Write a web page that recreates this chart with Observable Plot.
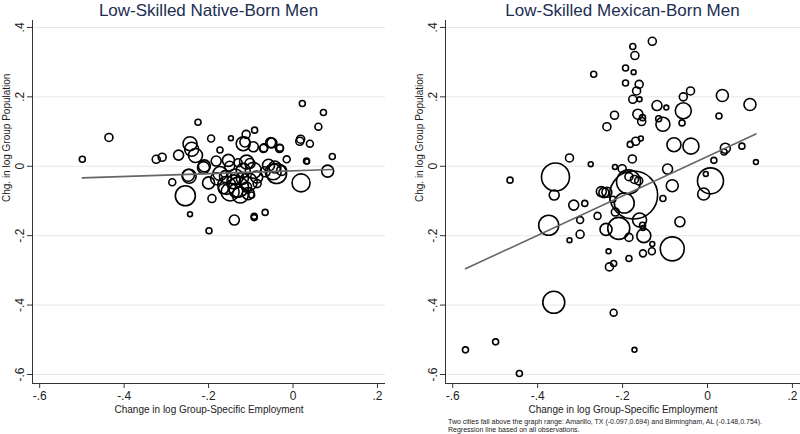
<!DOCTYPE html>
<html><head><meta charset="utf-8">
<script src="https://cdn.jsdelivr.net/npm/d3@7"></script>
<script src="https://cdn.jsdelivr.net/npm/@observablehq/plot@0.6"></script>
<style>
body{margin:0;background:#fff;font-family:"Liberation Sans",Arial,sans-serif;}
#wrap{position:relative;width:800px;height:434px;overflow:hidden;background:#fff}
.panel{position:absolute;top:0}
.title{position:absolute;top:1px;font-size:17px;line-height:1.15;color:#1c2d52;white-space:nowrap;transform:translateX(-50%)}
.note{position:absolute;left:448px;top:418px;font-size:7px;line-height:7.8px;color:#222;white-space:nowrap}
</style></head><body>
<div id="wrap">
  <div class="panel" id="p1" style="left:0px"></div>
  <div class="panel" id="p2" style="left:400px"></div>
  <div class="title" style="left:208.5px">Low-Skilled Native-Born Men</div>
  <div class="title" style="left:622.5px">Low-Skilled Mexican-Born Men</div>
  <div class="note">Two cities fall above the graph range: Amarillo, TX (-0.097,0.694) and Birmingham, AL (-0.148,0.754).<br>Regression line based on all observations.</div>
</div>
<script>
// ---- data ----
const xTicks = [-0.6, -0.4, -0.2, 0, 0.2];
const yTicks = [-0.6, -0.4, -0.2, 0, 0.2, 0.4];
const xDomain = [-0.617, 0.219];
const yDomain = [-0.626, 0.42];
const xLabel = "Change in log Group-Specific Employment";
const yLabel = "Chg. in log Group Population";

// Native-born: change in employment, change in population, weight
const nativeX = [-0.499,-0.436,-0.225,0.022,0.072,0.060,0.018,0.016,0.040,0.033,0.093,0.082,0.019,-0.047,-0.039,-0.050,-0.031,-0.015,-0.069,-0.091,-0.111,-0.118,-0.114,-0.147,-0.173,-0.194,-0.244,-0.240,-0.231,-0.271,-0.324,-0.310,-0.210,-0.286,-0.248,-0.255,-0.192,-0.200,-0.244,-0.139,-0.092,-0.092,-0.066,-0.199,-0.246,-0.212,-0.182,-0.153,-0.173,-0.157,-0.129,-0.137,-0.106,-0.094,-0.110,-0.094,-0.106,-0.098,-0.070,-0.053,-0.032,-0.058,-0.043,-0.027,0.032,-0.149,-0.125,-0.181,-0.086,-0.102,-0.118,-0.066,-0.140,-0.160,-0.120,-0.135,-0.150,-0.165,-0.110,-0.085,-0.130];
const nativeY = [0.020,0.083,0.127,0.181,0.155,0.114,0.078,0.072,0.065,0.014,0.028,-0.014,-0.048,-0.016,-0.021,0.067,0.053,0.020,0.053,0.104,0.092,0.065,0.070,0.081,0.047,0.080,0.065,0.049,0.031,0.032,0.020,0.026,0.001,-0.046,-0.026,-0.085,-0.093,-0.048,-0.138,-0.155,-0.144,-0.148,-0.133,-0.186,-0.029,-0.004,0.015,0.017,-0.021,-0.055,-0.060,-0.031,-0.045,0.056,0.012,-0.012,-0.079,-0.083,0.051,0.068,0.051,0.003,-0.002,-0.012,0.015,-0.074,-0.083,-0.036,-0.031,0.008,-0.012,-0.016,-0.045,-0.030,-0.035,-0.070,0.000,-0.065,-0.060,-0.050,0.010];
const nativeW = [9,16,9,9,9,12,16,16,12,6,9,36,81,64,100,25,12,12,16,9,16,49,25,6,9,12,49,49,49,25,16,16,36,12,36,100,16,36,6,25,9,9,9,9,49,36,25,36,49,81,100,64,81,25,49,64,36,9,16,25,16,36,36,25,9,81,64,36,36,25,49,25,49,36,36,49,25,25,25,16,16];

// Mexican-born
const mexX = [-0.130,-0.176,-0.171,-0.268,-0.193,-0.174,-0.193,-0.161,-0.167,-0.176,-0.160,-0.119,-0.097,-0.057,-0.057,-0.040,0.035,0.100,0.027,-0.060,-0.115,-0.105,-0.164,-0.153,-0.155,-0.219,-0.237,-0.157,-0.169,-0.182,-0.079,-0.039,0.042,0.039,0.081,0.015,0.114,-0.325,-0.275,-0.177,-0.218,-0.094,-0.465,-0.358,-0.361,-0.186,-0.174,-0.185,-0.172,-0.162,-0.083,0.007,-0.004,-0.009,-0.105,-0.250,-0.244,-0.237,-0.223,-0.196,-0.315,-0.289,-0.217,-0.374,-0.300,-0.300,-0.325,-0.259,-0.239,-0.209,-0.185,-0.160,-0.150,-0.153,-0.152,-0.065,-0.083,-0.130,-0.131,-0.152,-0.185,-0.233,-0.231,-0.221,-0.362,-0.221,-0.570,-0.499,-0.443,-0.172,-0.201];
const mexY = [0.360,0.345,0.319,0.265,0.283,0.271,0.240,0.236,0.217,0.193,0.193,0.175,0.169,0.160,0.200,0.217,0.204,0.178,0.145,0.125,0.137,0.121,0.150,0.140,0.129,0.147,0.114,0.080,0.072,0.063,0.062,0.058,0.052,0.041,0.058,0.017,0.012,0.024,0.006,0.021,-0.002,-0.008,-0.040,-0.031,-0.083,-0.045,-0.083,-0.030,-0.038,-0.042,-0.056,-0.042,-0.022,-0.080,-0.093,-0.073,-0.076,-0.075,-0.095,-0.106,-0.112,-0.107,-0.132,-0.170,-0.155,-0.196,-0.213,-0.143,-0.182,-0.179,-0.205,-0.155,-0.200,-0.170,-0.178,-0.160,-0.238,-0.224,-0.245,-0.251,-0.266,-0.245,-0.290,-0.280,-0.392,-0.422,-0.529,-0.506,-0.597,-0.529,-0.007];
const mexW = [16,9,16,9,9,6,9,16,16,16,6,25,6,64,16,16,36,36,9,9,9,49,25,9,16,16,16,6,16,9,49,64,25,9,9,9,6,16,6,16,6,25,9,196,25,144,576,16,16,16,36,169,6,36,9,25,25,25,9,100,25,9,16,100,12,16,6,12,36,121,16,49,49,9,6,25,144,6,12,12,9,6,16,9,121,12,9,9,9,6,16];

// Regression fits (intercept, slope) estimated from the figure
const fitIntercept = [-0.0133, 0.0284];
const fitSlope = [0.0406, 0.568];

// ---- drawing ----
const fmt = d => d === 0 ? "0" : String(+d.toFixed(1)).replace(/^(-?)0\./, "$1.");
const font = "'Liberation Sans', Arial, sans-serif";

function panel(xs, ys, ws, b0, b1, marginLeft, marginRight) {
  const pts = xs.map((x, i) => ({x, y: ys[i], w: ws[i]}));
  const ext = d3.extent(xs);
  const fit = ext.map(x => ({x, y: b0 + b1 * x}));
  return Plot.plot({
    width: 400, height: 420,
    marginLeft, marginRight, marginTop: 20, marginBottom: 37,
    style: {fontFamily: font, color: "#222", background: "transparent", overflow: "visible"},
    x: {domain: xDomain},
    y: {domain: yDomain},
    r: {type: "sqrt", domain: [0, 576], range: [0, 24]},
    marks: [
      Plot.gridY(yTicks, {stroke: "#e6e6e6", strokeOpacity: 1, strokeWidth: 1}),
      Plot.dot(pts, {x: "x", y: "y", r: "w", stroke: "#000", strokeWidth: 1.6, fill: "none"}),
      Plot.line(fit, {x: "x", y: "y", stroke: "#666", strokeWidth: 1.6}),
      Plot.ruleX([xDomain[0]], {stroke: "#333", strokeWidth: 1}),
      Plot.ruleY([yDomain[0]], {stroke: "#333", strokeWidth: 1}),
      Plot.axisX(xTicks, {tickSize: 5, tickPadding: 3, fontSize: 12, tickFormat: fmt, label: null, stroke: "#333"}),
      Plot.axisY(yTicks, {tickSize: 5, tickRotate: -90, fontSize: 12, tickFormat: fmt, label: null, stroke: "#333"}),
      Plot.text([xLabel], {text: d => d, frameAnchor: "bottom", dy: 29, lineAnchor: "bottom", fontSize: 10, fill: "#222"}),
      Plot.text([yLabel], {text: d => d, frameAnchor: "left", rotate: -90, dx: -30, lineAnchor: "top", fontSize: 10, fill: "#222"})
    ]
  });
}

document.getElementById("p1").append(panel(nativeX, nativeY, nativeW, fitIntercept[0], fitSlope[0], 32, 15));
document.getElementById("p2").append(panel(mexX, mexY, mexW, fitIntercept[1], fitSlope[1], 45, 0));
</script>
</body></html>
